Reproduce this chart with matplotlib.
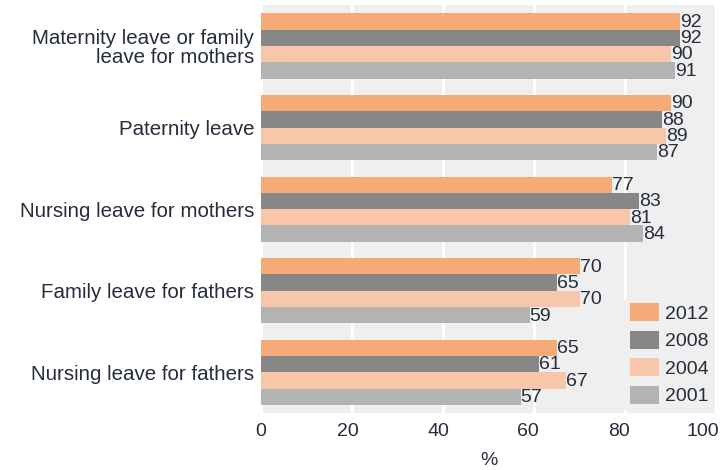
import numpy as np
import matplotlib
matplotlib.use("Agg")
import matplotlib.pyplot as plt
import matplotlib.transforms as mtrans

plt.rcParams['font.family'] = ['Liberation Sans', 'DejaVu Sans']

categories = ["Maternity leave or family\nleave for mothers", "Paternity leave",
              "Nursing leave for mothers", "Family leave for fathers",
              "Nursing leave for fathers"]
years = ["2012", "2008", "2004", "2001"]
v2012 = [92, 90, 77, 70, 65]
v2008 = [92, 88, 83, 65, 61]
v2004 = [90, 89, 81, 70, 67]
v2001 = [91, 87, 84, 59, 57]
colors = ["#f5ab78", "#878787", "#f8c6a9", "#b3b3b3"]

txt = "#252d3c"
fig = plt.figure(figsize=(7.25, 4.7), dpi=100)
ax = fig.add_axes([0.36, 0.121, 0.628, 0.868])
ax.set_facecolor("#efefef")

y = np.arange(len(categories))
h = 0.2
for i, (yr, vals) in enumerate(zip(years, [v2012, v2008, v2004, v2001])):
    pos = y - 0.3 + i * h
    ax.barh(pos, vals, height=h, color=colors[i], label=yr, zorder=2)
    for p, v in zip(pos, vals):
        ax.text(v, p + 0.01, str(v), va="center", ha="left", fontsize=14,
                color=txt, zorder=3)

ax.set_xlim(0, 100)
ax.set_ylim(4.5, -0.5)
ax.set_yticks(y)
ax.set_yticklabels(categories, fontsize=14.8, color=txt, linespacing=1.0)
ax.set_xticks([0, 20, 40, 60, 80, 100])
ax.tick_params(axis="x", labelsize=14, colors=txt, length=0, pad=7)
ax.tick_params(axis="y", length=0, pad=5)
ax.grid(axis="x", color="white", linewidth=2.2, zorder=1)
for s in ax.spines.values():
    s.set_visible(False)
ax.set_xlabel("%", fontsize=14, color=txt, labelpad=9)

# the reference's tick labels sit a little left of their grid lines
shifts = {"0": 0, "20": -4, "40": -5, "60": -6, "80": -6, "100": -13}
for lab in ax.get_xticklabels():
    dx = shifts.get(lab.get_text(), 0)
    lab.set_transform(lab.get_transform() + mtrans.ScaledTranslation(dx / 100, 0, fig.dpi_scale_trans))

leg = ax.legend(loc="lower right", frameon=True, fontsize=14, handlelength=1.5,
                handleheight=1.05, borderaxespad=0.1, borderpad=0.3,
                labelspacing=0.4, handletextpad=0.3)
leg.get_frame().set_facecolor("#efefef")
leg.get_frame().set_edgecolor("none")
leg.get_frame().set_alpha(1)
for t in leg.get_texts():
    t.set_color(txt)

fig.savefig("out.png")
